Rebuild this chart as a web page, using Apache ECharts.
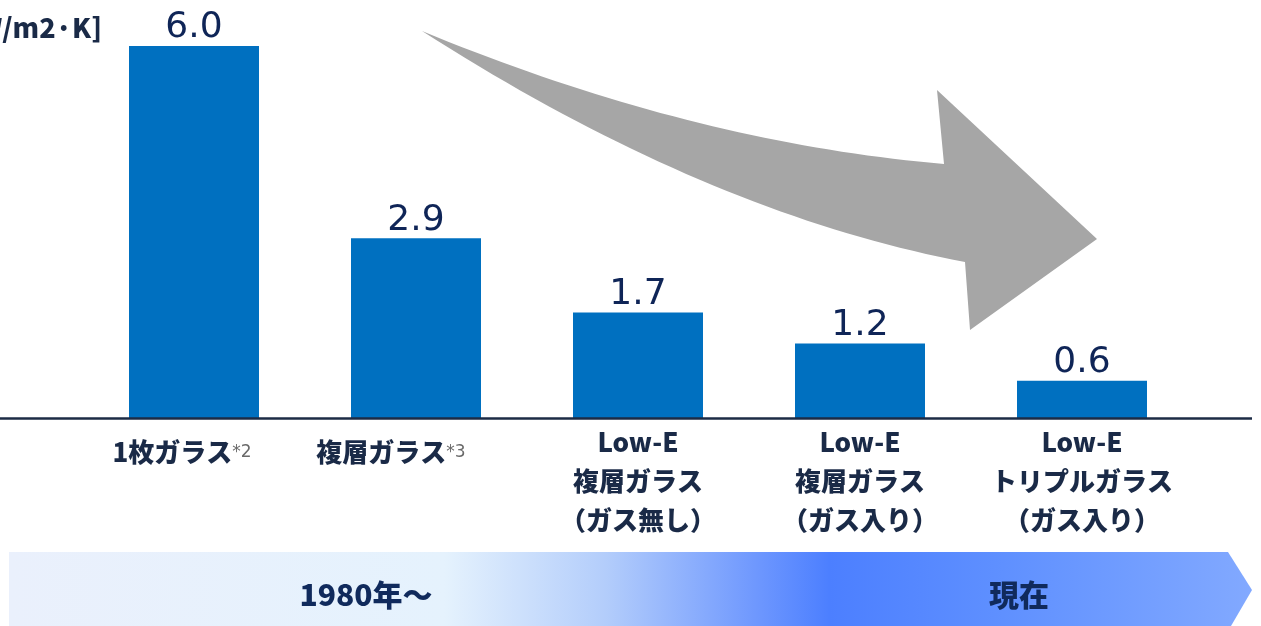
<!DOCTYPE html>
<html>
<head>
<meta charset="utf-8">
<script src="https://cdn.jsdelivr.net/npm/echarts@6/dist/echarts.min.js"></script>
<style>
  html, body { margin: 0; padding: 0; background: #ffffff; }
  #chart { width: 1261px; height: 626px; }
</style>
</head>
<body>
<div id="chart"></div>
<script>
// Heat transmission coefficient by glazing type [W/m2·K]
const categories = [
  '1枚ガラス',
  '複層ガラス',
  'Low-E\n複層ガラス\n（ガス無し）',
  'Low-E\n複層ガラス\n（ガス入り）',
  'Low-E\nトリプルガラス\n（ガス入り）'
];
const notes = ['*2', '*3', '', '', ''];
const uValues = [6.0, 2.9, 1.7, 1.2, 0.6];
const unitLabel = '[W/m2·K]';
const periodLabels = ['1980年〜', '現在'];

const ink = '#1a2a47';
const jp = '"Noto Sans CJK JP", "Noto Sans", sans-serif';

// outline of the curved trend arrow, built from two quadratic curves
function quad(p0, c, p1, n) {
  const pts = [];
  for (let i = 0; i <= n; i++) {
    const t = i / n, u = 1 - t;
    pts.push([u * u * p0[0] + 2 * u * t * c[0] + t * t * p1[0],
              u * u * p0[1] + 2 * u * t * c[1] + t * t * p1[1]]);
  }
  return pts;
}
const arrowOutline = [].concat(
  quad([422, 31], [690, 142], [944, 164], 40),
  [[937, 90], [1097, 239], [970, 330]],
  quad([965, 262], [706, 213], [422, 31], 40)
);

const chart = echarts.init(document.getElementById('chart'));

const option = {
  backgroundColor: '#ffffff',
  animation: false,
  grid: { left: 83, width: 1110, top: 46, height: 372 },
  xAxis: {
    type: 'category',
    data: categories,
    axisLine: { show: false },
    axisTick: { show: false },
    axisLabel: {
      interval: 0,
      margin: 5,
      formatter: function (value, idx) {
        if (notes[idx]) {
          return '{one|' + value + '}{sup|' + notes[idx] + '}{gap' + idx + '|}';
        }
        return value.split('\n').map(l => '{multi|' + l + '}').join('\n');
      },
      rich: {
        one: { fontFamily: jp, fontWeight: 900, fontSize: 26, color: ink, lineHeight: 59 },
        multi: { fontFamily: jp, fontWeight: 900, fontSize: 26, color: ink, lineHeight: 39 },
        sup: { fontFamily: 'DejaVu Sans', fontSize: 17, color: '#6a6a6a', lineHeight: 59 },
        gap0: { width: 24, lineHeight: 59 },
        gap1: { width: 50, lineHeight: 59 }
      }
    }
  },
  yAxis: {
    type: 'value',
    min: 0,
    max: 6,
    show: false,
    splitLine: { show: false }
  },
  series: [{
    type: 'bar',
    data: uValues,
    barWidth: 130,
    itemStyle: { color: '#0070c0' },
    z: 3,
    label: {
      show: true,
      position: 'top',
      distance: 0,
      formatter: p => p.value.toFixed(1),
      fontFamily: 'DejaVu Sans',
      fontSize: 36,
      color: '#0f2557'
    }
  }],
  graphic: [
    // curved trend arrow
    {
      type: 'polygon',
      z: 1,
      shape: { points: arrowOutline },
      style: { fill: '#a6a6a6' }
    },
    // baseline
    {
      type: 'line',
      z: 10,
      shape: { x1: 0, y1: 418.5, x2: 1252, y2: 418.5 },
      style: { stroke: '#1c2b45', lineWidth: 2.5 }
    },
    // unit label
    {
      type: 'text',
      z: 10,
      style: {
        x: 102, y: 28,
        text: unitLabel,
        align: 'right',
        verticalAlign: 'middle',
        font: '900 27px ' + jp,
        fill: ink
      }
    },
    // timeline band
    {
      type: 'polygon',
      z: 0,
      shape: { points: [[9, 552], [1228, 552], [1252, 590], [1231, 626], [9, 626]] },
      style: {
        fill: {
          type: 'linear', x: 0, y: 0, x2: 1, y2: 0,
          colorStops: [
            { offset: 0, color: '#eaf0fc' },
            { offset: 0.35, color: '#e5f2fd' },
            { offset: 0.48, color: '#b3cdfb' },
            { offset: 0.6, color: '#6f98fe' },
            { offset: 0.66, color: '#4c7fff' },
            { offset: 0.8, color: '#5f90ff' },
            { offset: 1, color: '#82a9ff' }
          ]
        }
      }
    },
    {
      type: 'text',
      z: 5,
      style: {
        x: 366, y: 595, text: periodLabels[0],
        align: 'center', verticalAlign: 'middle',
        font: '900 30px ' + jp, fill: '#102a5c'
      }
    },
    {
      type: 'text',
      z: 5,
      style: {
        x: 1019, y: 595, text: periodLabels[1],
        align: 'center', verticalAlign: 'middle',
        font: '900 30px ' + jp, fill: '#102a5c'
      }
    }
  ]
};

chart.setOption(option);
</script>
</body>
</html>
